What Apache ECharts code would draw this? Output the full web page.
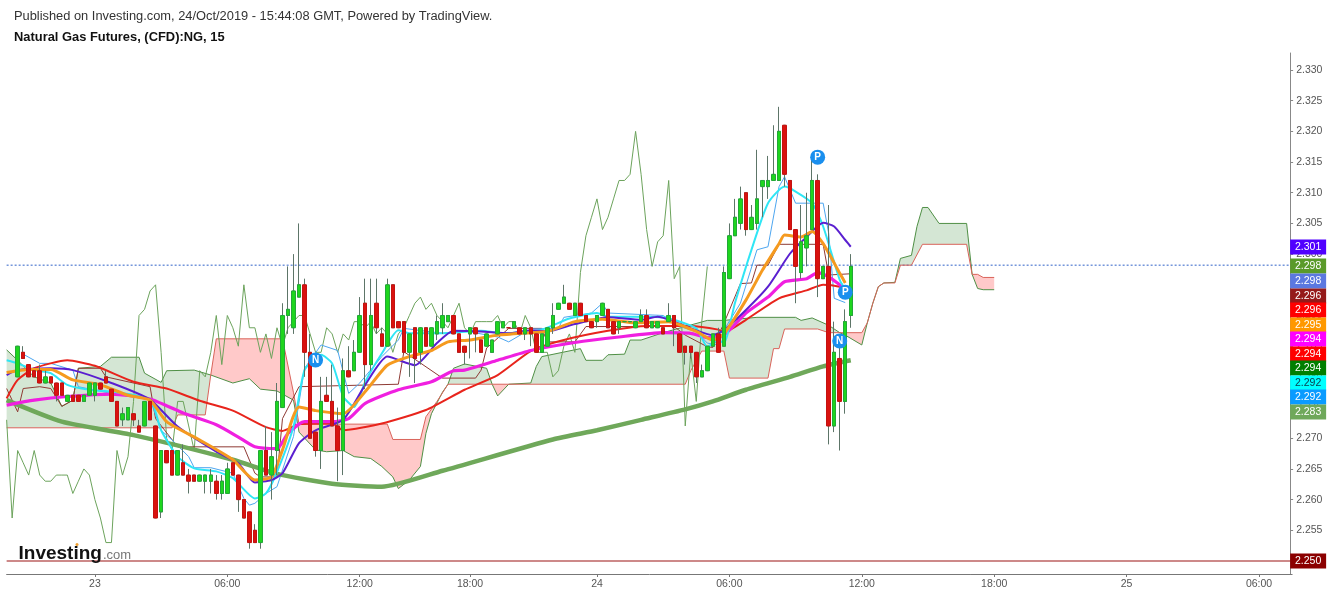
<!DOCTYPE html>
<html><head><meta charset="utf-8">
<style>html,body{margin:0;padding:0;background:#fff}#c{width:1332px;height:596px}</style>
<script src="https://cdn.jsdelivr.net/npm/echarts@6/dist/echarts.min.js"></script>
</head><body><div id="c"></div>
<script>
const barCount = 234, firstBar = 2, chikouShift = 24;
const xTickIndex = [16,40,64,84,107,131,155,179,203,227];
const xTickText = ['23','06:00','12:00','18:00','24','06:00','12:00','18:00','25','06:00'];
const yTicks = [2.255,2.26,2.265,2.27,2.275,2.28,2.285,2.29,2.295,2.3,2.305,2.31,2.315,2.32,2.325,2.33];

const barOpen = [2.280,2.284,2.282,2.281,2.281,2.279,2.280,2.279,2.279,2.276,
2.277,2.277,2.276,2.277,2.277,2.279,2.280,2.278,2.276,2.273,
2.273,2.274,2.272,2.272,2.276,2.272,2.258,2.268,2.268,2.264,
2.266,2.264,2.264,2.263,2.263,2.263,2.263,2.261,2.261,2.266,
2.264,2.260,2.258,2.255,2.253,2.268,2.264,2.268,2.275,2.290,
2.288,2.293,2.295,2.284,2.271,2.268,2.277,2.276,2.272,2.268,
2.281,2.281,2.284,2.292,2.282,2.292,2.287,2.285,2.295,2.289,
2.289,2.284,2.288,2.284,2.288,2.285,2.287,2.288,2.289,2.290,
2.287,2.285,2.287,2.288,2.286,2.285,2.284,2.287,2.288,2.288,
2.288,2.288,2.287,2.288,2.287,2.284,2.285,2.288,2.291,2.292,
2.292,2.290,2.292,2.290,2.289,2.289,2.290,2.291,2.289,2.288,
2.289,2.289,2.288,2.289,2.290,2.288,2.288,2.288,2.289,2.290,
2.287,2.285,2.285,2.284,2.280,2.281,2.285,2.287,2.285,2.296,
2.303,2.305,2.310,2.304,2.305,2.311,2.311,2.312,2.312,2.321,
2.312,2.304,2.297,2.301,2.304,2.312,2.296,2.298,2.272,2.283,
2.276,2.290];
const barClose = [2.285,2.283,2.280,2.280,2.279,2.280,2.279,2.277,2.277,2.277,
2.276,2.276,2.277,2.279,2.279,2.278,2.279,2.276,2.272,2.274,
2.275,2.273,2.271,2.276,2.273,2.257,2.268,2.266,2.264,2.268,
2.264,2.263,2.263,2.264,2.264,2.264,2.261,2.263,2.265,2.264,
2.260,2.257,2.253,2.253,2.268,2.264,2.267,2.276,2.290,2.291,
2.294,2.295,2.284,2.270,2.268,2.276,2.276,2.272,2.268,2.281,
2.280,2.284,2.290,2.282,2.290,2.288,2.285,2.295,2.288,2.288,
2.284,2.287,2.283,2.288,2.285,2.288,2.289,2.290,2.290,2.287,
2.284,2.284,2.288,2.287,2.284,2.287,2.286,2.289,2.289,2.288,
2.289,2.287,2.288,2.287,2.284,2.287,2.288,2.290,2.292,2.293,
2.291,2.292,2.290,2.289,2.288,2.290,2.292,2.288,2.287,2.289,
2.289,2.289,2.289,2.290,2.288,2.289,2.289,2.287,2.290,2.288,
2.284,2.284,2.284,2.280,2.281,2.285,2.287,2.284,2.297,2.303,
2.306,2.309,2.304,2.306,2.309,2.312,2.312,2.313,2.320,2.313,
2.304,2.298,2.302,2.303,2.312,2.296,2.298,2.272,2.284,2.276,
2.289,2.298];
const barLow = [2.280,2.283,2.280,2.280,2.279,2.279,2.279,2.276,2.277,2.276,
2.276,2.276,2.276,2.277,2.276,2.278,2.279,2.276,2.272,2.272,
2.273,2.272,2.271,2.272,2.273,2.257,2.257,2.266,2.264,2.264,
2.264,2.261,2.263,2.263,2.261,2.261,2.260,2.260,2.261,2.264,
2.258,2.257,2.252,2.253,2.252,2.264,2.260,2.264,2.275,2.287,
2.287,2.293,2.280,2.270,2.267,2.265,2.276,2.272,2.263,2.264,
2.280,2.281,2.284,2.278,2.281,2.287,2.285,2.285,2.288,2.288,
2.284,2.280,2.279,2.282,2.285,2.285,2.286,2.287,2.289,2.287,
2.284,2.282,2.283,2.284,2.284,2.285,2.284,2.287,2.288,2.288,
2.288,2.287,2.286,2.285,2.284,2.284,2.285,2.287,2.291,2.292,
2.291,2.290,2.290,2.289,2.288,2.288,2.290,2.288,2.287,2.287,
2.289,2.289,2.288,2.289,2.288,2.288,2.288,2.287,2.289,2.285,
2.284,2.282,2.283,2.279,2.280,2.281,2.285,2.284,2.285,2.296,
2.303,2.304,2.303,2.304,2.304,2.306,2.309,2.312,2.312,2.311,
2.304,2.292,2.296,2.298,2.304,2.293,2.296,2.269,2.271,2.268,
2.274,2.288];
const barHigh = [2.285,2.285,2.282,2.281,2.282,2.281,2.280,2.279,2.279,2.277,
2.277,2.277,2.277,2.279,2.279,2.279,2.281,2.278,2.276,2.275,
2.275,2.274,2.273,2.276,2.276,2.272,2.268,2.268,2.268,2.268,
2.269,2.265,2.264,2.264,2.264,2.265,2.264,2.264,2.266,2.266,
2.264,2.260,2.258,2.256,2.268,2.272,2.271,2.279,2.292,2.298,
2.300,2.305,2.296,2.287,2.271,2.280,2.280,2.282,2.275,2.283,
2.285,2.286,2.293,2.296,2.296,2.296,2.288,2.296,2.295,2.289,
2.289,2.287,2.288,2.288,2.288,2.288,2.290,2.292,2.290,2.290,
2.287,2.285,2.288,2.288,2.286,2.287,2.286,2.289,2.289,2.288,
2.289,2.288,2.288,2.288,2.287,2.287,2.288,2.292,2.292,2.295,
2.292,2.292,2.292,2.290,2.289,2.290,2.292,2.291,2.289,2.289,
2.289,2.289,2.289,2.291,2.291,2.289,2.289,2.288,2.292,2.290,
2.287,2.285,2.285,2.284,2.282,2.285,2.287,2.288,2.298,2.305,
2.309,2.311,2.310,2.308,2.317,2.312,2.316,2.321,2.324,2.321,
2.312,2.304,2.308,2.310,2.316,2.313,2.298,2.308,2.289,2.285,
2.291,2.300];

const maSlowGreen = [[0,2.2762],[10,2.2727],[23,2.2705],[41,2.2665],[49,2.2642],[59,2.2626],[68,2.2621],[79,2.2647],[99,2.2698],[107,2.2713],[115,2.273],[123,2.2747],[128,2.276],[134,2.2779],[142,2.28],[148,2.2817],[153,2.2827]];
const maMagenta = [[0,2.2754],[5,2.2762],[11,2.2768],[19,2.2772],[26,2.2764],[32,2.2741],[38,2.2722],[42,2.2702],[45,2.2686],[49,2.2683],[51,2.2708],[54,2.2727],[59,2.2727],[62,2.2732],[65,2.2757],[71,2.2779],[77,2.2792],[81,2.281],[83,2.2811],[89,2.2827],[95,2.2843],[103,2.2856],[111,2.2865],[119,2.2872],[124,2.2871],[127,2.2864],[130,2.2868],[134,2.2904],[138,2.293],[141,2.2955],[145,2.296],[147,2.297],[149,2.2963],[151,2.295],[152,2.2942]];
const maRedSlow = [[0,2.2765],[2,2.2795],[5,2.2814],[11,2.2827],[16,2.2818],[23,2.2792],[29,2.2781],[35,2.2761],[41,2.2745],[47,2.2718],[50,2.2712],[53,2.2723],[59,2.2724],[61,2.2713],[68,2.2724],[76,2.2746],[83,2.2779],[89,2.2803],[95,2.2842],[101,2.286],[109,2.2875],[116,2.2883],[124,2.2883],[129,2.2877],[130,2.2873],[134,2.2893],[140,2.2928],[145,2.2941],[148,2.295],[151,2.2947],[152,2.2942]];
const maOrange = [[0,2.2807],[4,2.2812],[8,2.2812],[12,2.2795],[17,2.2787],[22,2.277],[26,2.2762],[29,2.2727],[35,2.2697],[41,2.2665],[45,2.2632],[48,2.2637],[50,2.2681],[53,2.2751],[56,2.2745],[61,2.274],[65,2.2776],[69,2.2819],[73,2.2833],[77,2.2843],[80,2.2857],[84,2.286],[89,2.2868],[95,2.2872],[98,2.2874],[103,2.289],[108,2.2894],[114,2.2888],[120,2.289],[125,2.2874],[128,2.286],[130,2.287],[134,2.2925],[137,2.2974],[140,2.3017],[141,2.3031],[144,2.3028],[146,2.3037],[148,2.3017],[151,2.2969],[152,2.2953]];
const maPurple = [[0,2.2803],[2,2.2811],[8,2.2814],[12,2.2811],[19,2.279],[26,2.2763],[31,2.2719],[38,2.2678],[42,2.2659],[45,2.2628],[48,2.2632],[50,2.2643],[53,2.2692],[56,2.2713],[61,2.273],[65,2.2787],[69,2.2833],[74,2.2819],[78,2.2855],[81,2.2875],[86,2.2874],[91,2.2871],[95,2.2876],[98,2.2874],[103,2.2886],[109,2.2897],[115,2.2893],[118,2.2898],[124,2.2879],[128,2.2868],[130,2.2876],[134,2.2909],[138,2.2947],[142,2.3001],[145,2.3028],[148,2.3051],[150,2.3045],[152,2.3023],[153,2.3012]];
const maCyan = [[0,2.2827],[2,2.2822],[5,2.2811],[8,2.2806],[11,2.2787],[15,2.2779],[19,2.2776],[26,2.2763],[28,2.2713],[31,2.267],[34,2.2651],[38,2.2646],[41,2.2635],[45,2.2602],[47,2.261],[49,2.2645],[52,2.2719],[54,2.2811],[57,2.2836],[59,2.2822],[61,2.2768],[63,2.2751],[65,2.2792],[68,2.2838],[71,2.2876],[73,2.2871],[79,2.2871],[86,2.2875],[90,2.2871],[97,2.2877],[102,2.2895],[107,2.2904],[109,2.2898],[114,2.2898],[119,2.2897],[125,2.2879],[127,2.2849],[129,2.286],[130,2.2855],[132,2.292],[135,2.3007],[138,2.3083],[141,2.311],[143,2.3102],[146,2.3083],[148,2.3045],[151,2.2958],[152,2.2942],[153,2.2925]];
const kijunBlue = [[3,2.2837],[6,2.2822],[8,2.2822],[12,2.2811],[13,2.2784],[19,2.2773],[26,2.2763],[28,2.2713],[30,2.2697],[33,2.267],[34,2.2652],[37,2.2652],[41,2.2643],[43,2.2602],[44,2.2591],[45,2.2594],[47,2.261],[49,2.2621],[52,2.2703],[54,2.2814],[57,2.2852],[60,2.2843],[62,2.2773],[64,2.279],[68,2.2833],[71,2.286],[72,2.2879],[79,2.2871],[83,2.2875],[89,2.2865],[91,2.2857],[95,2.2878],[100,2.2879],[101,2.2897],[106,2.2904],[108,2.292],[109,2.2904],[119,2.29],[122,2.2882],[125,2.2874],[127,2.2855],[129,2.2852],[130,2.2876],[133,2.292],[136,2.3007],[138,2.3012],[140,2.311],[141,2.3126],[143,2.3083],[148,2.3083],[149,2.3034],[150,2.2928],[152,2.2921]];
const tenkanBrown = [[0,2.2781],[2,2.2743],[3,2.2781],[6,2.2784],[8,2.2781],[10,2.2752],[12,2.2762],[13,2.2814],[17,2.2814],[18,2.28],[26,2.2784],[27,2.2732],[31,2.2686],[43,2.2686],[45,2.2643],[46,2.2637],[49,2.2637],[50,2.2732],[53,2.2784],[71,2.2788],[72,2.2841],[79,2.2798],[85,2.2798],[86,2.2811],[87,2.2847],[91,2.2879],[97,2.2879],[98,2.2857],[103,2.2857],[105,2.2882],[121,2.2882],[123,2.2868],[127,2.2849],[128,2.2848],[130,2.2887],[133,2.2952],[135,2.2953],[136,2.2982],[138,2.2982],[140,2.3016],[148,2.3016],[149,2.2966],[153,2.2968]];
const senkouA = [[0,2.2844],[2,2.2827],[5,2.28],[8,2.279],[10,2.2752],[12,2.2762],[13,2.2814],[17,2.2817],[19,2.2832],[24,2.2832],[25,2.2806],[28,2.2791],[29,2.281],[34,2.2811],[37,2.2803],[41,2.279],[44,2.2797],[46,2.278],[49,2.2777],[52,2.2762],[53,2.271],[56,2.2681],[58,2.2678],[61,2.268],[63,2.267],[66,2.2667],[68,2.2654],[70,2.2637],[71,2.2618],[73,2.2632],[75,2.2654],[76,2.2708],[77,2.274],[79,2.2775],[80,2.2788],[81,2.2814],[83,2.2821],[87,2.2814],[88,2.2788],[89,2.2769],[91,2.2788],[95,2.279],[96,2.2817],[97,2.2833],[104,2.2846],[105,2.2827],[108,2.2827],[109,2.2836],[112,2.2837],[113,2.286],[115,2.286],[119,2.2872],[123,2.2882],[127,2.2892],[130,2.2892],[136,2.2897],[143,2.2897],[144,2.2892],[146,2.2896],[149,2.2884],[151,2.2872],[152,2.2868],[155,2.2852],[156,2.2888],[157,2.292],[158,2.2947],[159,2.2953],[161,2.2954],[162,2.2993],[164,2.2998],[165,2.3045],[166,2.3076],[167,2.3076],[169,2.305],[174,2.305],[175,2.2967],[176,2.2944],[177,2.2942],[179,2.2942]];
const senkouB = [[0,2.2717],[30,2.2717],[31,2.2738],[36,2.2738],[37,2.2803],[38,2.2862],[50,2.2862],[52,2.2774],[53,2.2723],[69,2.2723],[70,2.2698],[75,2.2698],[76,2.2735],[78,2.276],[80,2.2788],[88,2.2788],[91,2.2788],[123,2.2788],[124,2.281],[126,2.2842],[130,2.2842],[131,2.2798],[138,2.2798],[139,2.2846],[140,2.2846],[141,2.2878],[147,2.2878],[149,2.2872],[151,2.2872],[155,2.2872],[156,2.2888],[157,2.292],[158,2.2947],[159,2.2953],[161,2.2953],[162,2.2982],[164,2.2982],[166,2.3016],[174,2.3016],[175,2.2967],[176,2.2967],[177,2.2962],[179,2.2962]];
const cloudSpans = [[0,37,1],[37,80,0],[80,88,1],[88,91,0],[91,151,1],[151,156,0],[156,175,1],[175,179,0]];
const signalN = [[56,2.28275],[151,2.28585]];
const signalP = [[147,2.3158],[152,2.2938]];
const tagPos = [2.30116,2.29807,2.29562,2.29318,2.2909,2.28845,2.28617,2.28373,2.28145,2.279,2.27672,2.27428,2.25];
const tagText = ['2.301','2.298','2.298','2.296','2.296','2.295','2.294','2.294','2.294','2.292','2.292','2.283','2.250'];
const tagColor = ['#5000ff','#5a9a2a','#5b78e0','#951a1a','#ff0000','#ff9800','#ff00ff','#ff0000','#007f00','#00ffff','#0a9bff','#6fa85a','#8b0000'];
const lastPrice = 2.2982, supportLevel = 2.25;

const categories = Array.from({length: barCount}, (_, i) => String(i));
const candleAt = fn => categories.map((_, i) => {
  const k = i - firstBar;
  return k >= 0 && k < barOpen.length ? fn(k) : '-';
});
const candleData = candleAt(k => [barOpen[k], barClose[k], barLow[k], barHigh[k]]);
const bodyData = candleAt(k => [barOpen[k], barClose[k], Math.min(barOpen[k], barClose[k]), Math.max(barOpen[k], barClose[k])]);
const chikou = barClose.map((c, k) => k >= chikouShift ? [k - chikouShift, c] : null).filter(Boolean);
const FF = '"Liberation Sans", Arial, sans-serif';
const isTick = i => xTickIndex.includes(i);
const lineSeries = (name, data, color, width, smooth, z, type) => ({
  name, type: 'line', data, smooth, z, symbol: 'none', silent: true, animation: false,
  lineStyle: {color, width, type: type || 'solid'}, clip: true
});
const chart = echarts.init(document.getElementById('c'), null, {renderer: 'canvas'});
chart.setOption({
  animation: false,
  backgroundColor: '#fff',
  grid: {left: 6.63, top: 53, width: 1285.5, height: 521, containLabel: false},
  xAxis: {
    type: 'category', data: categories, boundaryGap: false,
    axisLine: {lineStyle: {color: '#777', width: 1}},
    axisTick: {interval: i => isTick(i), length: 3, lineStyle: {color: '#777'}},
    axisLabel: {interval: i => isTick(i), color: '#555', fontSize: 10.5, fontFamily: FF, margin: 5,
      formatter: (v, i) => { const p = xTickIndex.indexOf(i); return p >= 0 ? xTickText[p] : ''; }},
    splitLine: {show: false}
  },
  yAxis: {
    type: 'value', position: 'right', offset: -2, min: 2.24788, max: 2.33277, scale: true,
    axisLine: {show: true, lineStyle: {color: '#888', width: 1}},
    axisTick: {show: true, length: 3, customValues: yTicks, lineStyle: {color: '#888'}},
    axisLabel: {color: '#555', fontSize: 10.5, fontFamily: FF, margin: 6, customValues: yTicks,
      formatter: v => v.toFixed(3)},
    splitLine: {show: false}
  },
  series: [
    {type: 'custom', name: 'Cloud', z: 1, silent: true, clip: true,
      data: cloudSpans, encode: {x: 0, y: 2},
      renderItem: (p, api) => {
        const a = api.value(0), b = api.value(1), up = api.value(2) === 1;
        const pick = l => l.filter(d => d[0] >= a && d[0] <= b).map(d => api.coord(d));
        return {type: 'polygon', shape: {points: pick(senkouA).concat(pick(senkouB).reverse())},
          style: {fill: up ? 'rgba(40,130,40,0.2)' : 'rgba(255,0,0,0.21)', stroke: 'none'}};
      }},
    lineSeries('Last price', [[0, lastPrice], [barCount - 1, lastPrice]], '#2f62c8', 1, false, 2, [2, 2]),
    lineSeries('Support', [[0, supportLevel], [barCount - 1, supportLevel]], '#9c1414', 1.2, false, 2),
    lineSeries('Senkou A', senkouA, '#4f8f45', 1, false, 2),
    lineSeries('Senkou B', senkouB, '#d9635a', 1, false, 2),
    lineSeries('Chikou', chikou, '#6ca35c', 1, false, 2),
    lineSeries('Tenkan', tenkanBrown, '#8e3a34', 1, false, 2),
    lineSeries('Kijun', kijunBlue, '#4da6f0', 1, false, 2),
    lineSeries('MA slow', maSlowGreen, '#6fa85a', 4.5, 0.2, 3),
    lineSeries('MA red', maRedSlow, '#e8241c', 2, 0.2, 3),
    lineSeries('MA magenta', maMagenta, '#f01fe0', 3.2, 0.2, 3),
    lineSeries('MA cyan', maCyan, '#2fe6f5', 2, 0.2, 3),
    lineSeries('MA purple', maPurple, '#5a1fd0', 2, 0.2, 3),
    lineSeries('MA orange', maOrange, '#f59a1f', 3, 0.2, 3),
    {type: 'candlestick', name: 'NG wicks', z: 5, data: candleData, barWidth: 3, silent: true,
      itemStyle: {color: '#5d7568', color0: '#5d7568', borderColor: '#5d7568', borderColor0: '#5d7568', borderWidth: 1}},
    {type: 'candlestick', name: 'NG', z: 5, data: bodyData, barWidth: 4, silent: true,
      itemStyle: {color: '#1ed61e', color0: '#d9120f', borderColor: '#22a838', borderColor0: '#c41210', borderWidth: 1}},
    {type: 'scatter', name: 'N', z: 6, symbol: 'circle', symbolSize: 15, data: signalN, silent: true,
      itemStyle: {color: '#1a8fee', opacity: 1},
      label: {show: true, position: 'inside', formatter: 'N', color: '#fff', fontSize: 10, fontWeight: 'bold', fontFamily: FF}},
    {type: 'scatter', name: 'P', z: 6, symbol: 'circle', symbolSize: 15, data: signalP, silent: true,
      itemStyle: {color: '#1a8fee', opacity: 1},
      label: {show: true, position: 'inside', formatter: 'P', color: '#fff', fontSize: 10, fontWeight: 'bold', fontFamily: FF}},
    {type: 'custom', name: 'Tags', z: 10, silent: true, clip: false,
      data: tagPos.map((v, i) => [barCount - 1, v, i]), encode: {x: 0, y: 1},
      renderItem: (p, api) => {
        const pt = api.coord([api.value(0), api.value(1)]), i = api.value(2);
        const x = pt[0] - 2, y = pt[1] - 7.5;
        return {type: 'group', children: [
          {type: 'rect', shape: {x, y, width: 36, height: 15}, style: {fill: tagColor[i]}},
          {type: 'text', style: {x: x + 18, y: pt[1], text: tagText[i], align: 'center', verticalAlign: 'middle',
            fill: tagColor[i] === '#00ffff' ? '#0a3a4a' : '#fff', font: '10.5px ' + FF}}
        ]};
      }}
  ],
  graphic: [
    {type: 'text', left: 14, top: 10, style: {text: 'Published on Investing.com, 24/Oct/2019 - 15:44:08 GMT, Powered by TradingView.', font: '12.85px ' + FF, fill: '#333'}},
    {type: 'text', left: 14, top: 31, style: {text: 'Natural Gas Futures, (CFD):NG, 15', font: 'bold 12.9px ' + FF, fill: '#111'}},
    {type: 'text', left: 18.5, top: 544, z: 20, style: {text: 'Investing', font: 'bold 19px ' + FF, fill: '#111'}},
    {type: 'text', left: 103, top: 549, z: 20, style: {text: '.com', font: '13px ' + FF, fill: '#777'}},
    {type: 'circle', left: 75.5, top: 543, z: 21, shape: {r: 1.5}, style: {fill: '#f0a030'}}
  ]
});
</script></body></html>
